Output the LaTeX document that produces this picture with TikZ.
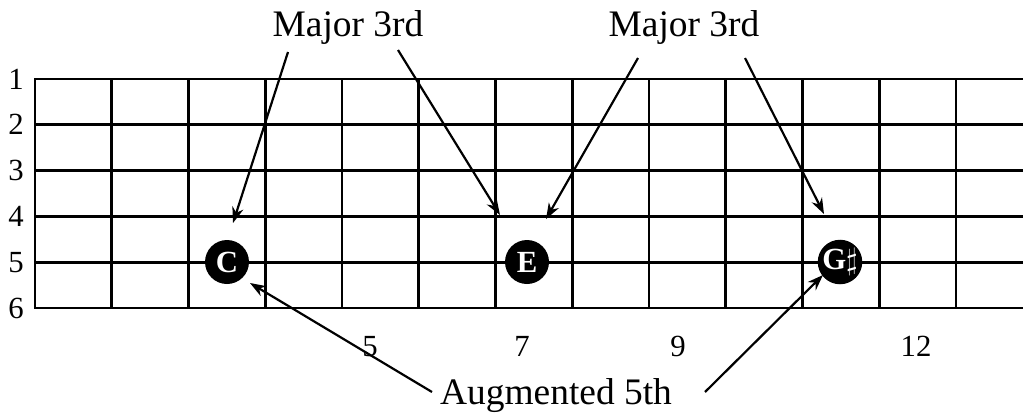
\documentclass[tikz,border=0pt]{standalone}
\usepackage{fontspec}
\setmainfont{Liberation Serif}
\usetikzlibrary{positioning,arrows.meta,calc}

\begin{document}
\begin{tikzpicture}[x=0.02cm, y=-0.02cm,
  corde/.style={line width=1.5pt, line cap=rect},
  note/.style={
    circle, fill=black, text=white,
    minimum size=0.88cm, inner sep=0pt,
    font=\fontsize{17.5}{17.5}\selectfont\bfseries
  },
  lbl/.style={anchor=base, font=\fontsize{21.3}{22}\selectfont},
  num/.style={anchor=base, font=\fontsize{17.5}{18}\selectfont},
  fl/.style={-{Stealth[length=9pt, width=6.5pt]}, line width=1.25pt}
]
  \useasboundingbox (0,0) rectangle (1023,413);

  % --- Manche ---
  \foreach \s in {0,...,5}
    \draw[corde] (35, 79+45.8*\s) -- (1023, 79+45.8*\s);
  \foreach \f in {0,...,12}
    \draw[corde] (35+76.75*\f, 79) -- (35+76.75*\f, 308);

  % --- Cordes et cases ---
  \foreach \s in {1,...,6}
    \node[num] (s\s) at (16, 89+45.8*\s-45.8) {\s};
  \node[num] (f5)  at (370, 356) {5};
  \node[num] (f7)  at (522, 356) {7};
  \node[num] (f9)  at (678, 356) {9};
  \node[num] (f12) at (916, 356) {12};

  % --- Notes ---
  \node[note] (c)  at (227, 262) {C};
  \node[note] (e)  at (527, 262) {E};
  \node[note] (gs) at (840, 262) {G$\sharp$};

  % --- Intervalles ---
  \node[lbl] (maj1) at (348, 36)  {Major 3rd};
  \node[lbl] (maj2) at (684, 36)  {Major 3rd};
  \node[lbl] (aug)  at (556, 404) {Augmented 5th};

  \coordinate (m1a) at (288, 52);
  \coordinate (m1b) at (398, 50);
  \coordinate (m2a) at (638, 58);
  \coordinate (m2b) at (745, 58);
  \coordinate (a1)  at (432, 392);
  \coordinate (a2)  at (705, 392);

  % --- Flèches ---
  \draw[fl] (m1a) -- ($(c)+(6,-39)$);
  \draw[fl] (m1b) -- ($(e)+(-27,-47)$);
  \draw[fl] (m2a) -- ($(e)+(19,-43)$);
  \draw[fl] (m2b) -- ($(gs)+(-16,-48)$);
  \draw[fl] (a1)  -- ($(c)+(23,21)$);
  \draw[fl] (a2)  -- ($(gs)+(-17,13)$);

\end{tikzpicture}
\end{document}
